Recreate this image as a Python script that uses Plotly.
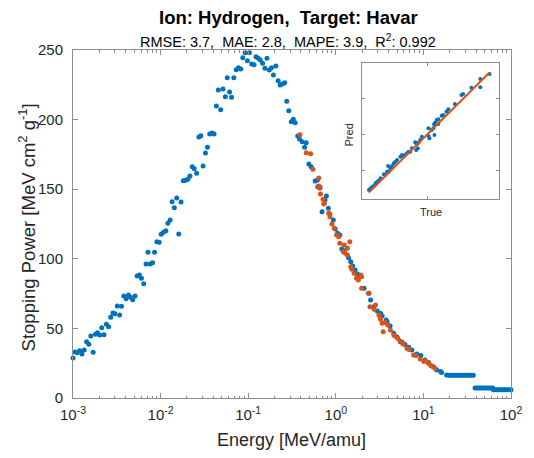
import numpy as np
import plotly.graph_objects as go

# ---------------- data ----------------
# Blue: reference data, log10(Energy [MeV/amu]) and Stopping Power
blue_logE = [
    -3.000, -2.977, -2.951, -2.924, -2.898, -2.872, -2.845, -2.819, -2.796, -2.770,
    -2.743, -2.721, -2.695, -2.672, -2.646, -2.619, -2.593, -2.570, -2.544, -2.521,
    -2.494, -2.468, -2.446, -2.420, -2.393, -2.367, -2.344, -2.318, -2.291, -2.268,
    -2.242, -2.219, -2.193, -2.166, -2.144, -2.118, -2.092, -2.069, -2.042, -2.016,
    -1.993, -1.967, -1.940, -1.917, -1.891, -1.869, -1.843, -1.816, -1.793, -1.767,
    -1.741, -1.714, -1.688, -1.665, -1.639, -1.616, -1.589, -1.563, -1.541, -1.515,
    -1.488, -1.465, -1.439, -1.413, -1.390, -1.363, -1.341, -1.314, -1.288, -1.261,
    -1.239, -1.213, -1.190, -1.164, -1.137, -1.111, -1.085, -1.062, -1.035, -1.009,
    -0.986, -0.960, -0.933, -0.911, -0.885, -0.862, -0.836, -0.809, -0.786, -0.760,
    -0.734, -0.712, -0.684, -0.658, -0.636, -0.610, -0.583, -0.560, -0.537, -0.508,
    -0.485, -0.463, -0.435, -0.413, -0.383, -0.356, -0.338, -0.308, -0.282, -0.236,
    -0.209, -0.206, -0.180, -0.157, -0.123, -0.107, -0.085, -0.028, -0.006, 0.020,
    0.046, 0.069, 0.096, 0.145, 0.171, 0.193, 0.221, 0.247, 0.273, 0.322,
    0.379, 0.397, 0.436, 0.473, 0.510, 0.529, 0.575, 0.586, 0.620, 0.662,
    0.699, 0.736, 0.756, 0.790, 0.832, 0.869, 0.925, 0.971, 1.019, 1.061,
    1.114, 1.152, 1.197, 1.208, 1.265,
    1.29, 1.31, 1.33, 1.35, 1.37, 1.39, 1.41, 1.43, 1.45, 1.47, 1.49, 1.51, 1.53, 1.55, 1.57,
    1.59, 1.61, 1.63, 1.65, 1.67, 1.69, 1.71, 1.73, 1.75, 1.77, 1.79,
    1.80, 1.82, 1.84, 1.86, 1.88, 1.90, 1.92, 1.94, 1.96, 1.98, 2.00,
]
blue_S = [
    28.7, 33.0, 32.5, 34.0, 31.6, 34.5, 40.4, 38.6, 44.5, 32.8,
    45.8, 46.9, 45.3, 50.5, 45.5, 52.9, 51.2, 58.0, 61.1, 60.6,
    66.1, 59.6, 65.9, 73.3, 71.3, 74.0, 72.3, 70.6, 73.3, 87.6,
    88.4, 86.0, 82.1, 96.3, 104.7, 96.3, 97.2, 104.7, 112.3, 111.9,
    117.6, 119.0, 120.2, 125.5, 127.9, 141.0, 136.7, 143.7, 117.8, 140.8,
    156.1, 156.4, 157.1, 159.5, 166.2, 164.7, 161.4, 187.5, 188.4, 166.7,
    176.0, 180.1, 189.7, 190.4, 189.7, 209.8, 221.3, 207.1, 222.0, 216.5,
    230.1, 219.8, 216.0, 230.1, 235.8, 237.3, 236.4, 244.5, 248.1, 242.3,
    248.1, 239.9, 239.4, 245.2, 244.0, 242.8, 240.4, 236.9, 244.0, 235.6,
    237.3, 232.0, 238.5, 227.9, 224.9, 225.6, 226.5, 213.1, 206.4, 198.5,
    200.2, 197.8, 188.2, 185.8, 184.1, 180.1, 183.4, 168.1, 166.2, 155.9,
    156.6, 151.8, 151.4, 133.8, 142.2, 145.1, 136.3, 127.9, 121.4, 118.3,
    117.1, 107.0, 105.8, 100.8, 97.9, 94.8, 92.0, 89.1, 87.1, 78.8,
    75.2, 70.4, 65.6, 62.5, 60.8, 58.9, 56.0, 54.6, 51.7, 46.5,
    43.8, 40.4, 40.2, 38.4, 36.4, 34.5, 31.6, 30.5, 27.3, 25.5,
    22.5, 20.1, 19.0, 18.3, 16.5,
    16.3, 16.3, 16.3, 16.3, 16.3, 16.3, 16.3, 16.3, 16.3, 16.3, 16.3, 16.3, 16.3, 16.3, 16.3,
    7.2, 7.2, 7.2, 7.2, 7.2, 7.2, 7.2, 7.2, 7.2, 7.2, 7.2,
    6.0, 6.0, 6.0, 6.0, 6.0, 6.0, 6.0, 6.0, 6.0, 6.0, 6.0,
]

# Orange: model predictions on the test energies
orange_logE = [
    -0.410, -0.338, -0.288, -0.262, -0.195, -0.195, -0.183, -0.175, -0.146, -0.138,
    -0.130, -0.081, -0.067, -0.067, -0.044, -0.017, 0.009, 0.032, 0.046, 0.085,
    0.096, 0.107, 0.133, 0.133, 0.160, 0.171, 0.182, 0.209, 0.235, 0.258,
    0.284, 0.295, 0.295, 0.371, 0.390, 0.436, 0.454, 0.492, 0.507, 0.510,
    0.529, 0.541, 0.563, 0.594, 0.623, 0.662, 0.676, 0.707, 0.733, 0.767,
    0.812, 0.835, 0.888, 0.914, 0.963, 1.005, 1.016, 1.058, 1.084, 1.095,
    1.132,
]
orange_S = [
    189.2, 176.2, 175.5, 164.3, 158.0, 152.3, 150.6, 146.6, 142.7, 139.4,
    139.9, 132.7, 132.2, 130.2, 125.0, 121.9, 117.1, 115.9, 111.1, 105.1,
    109.9, 104.0, 107.5, 102.7, 112.3, 94.3, 92.5, 89.6, 86.0, 84.8,
    88.4, 87.1, 78.8, 75.2, 65.6, 63.7, 66.8, 59.6, 57.5, 56.5,
    53.7, 47.6, 54.2, 52.4, 48.9, 45.3, 44.5, 42.9, 40.9, 38.8,
    35.7, 34.8, 30.9, 30.5, 28.0, 26.2, 26.6, 24.9, 23.3, 23.0,
    21.3,
]

# Inset: predicted vs true values of the test set
inset_true = [
    186.7, 173.9, 173.9, 161.5, 150.0, 147.7, 138.5, 129.4, 127.0, 122.5,
    120.2, 115.6, 113.3, 110.9, 109.6, 115.6, 108.7, 106.4, 101.8, 103.2,
    101.8, 110.1, 92.6, 90.3, 88.1, 85.7, 83.4, 87.1, 84.8, 78.9,
    76.5, 74.3, 69.6, 72.0, 67.4, 65.1, 62.8, 58.2, 55.9, 53.7,
    51.3, 45.8, 49.0, 44.4, 39.9, 35.2, 30.7, 28.3, 23.8, 21.4,
    19.2, 26.0, 33.0, 42.0, 47.0,
]
inset_pred = [
    184.6, 166.0, 177.6, 165.5, 156.7, 155.3, 142.7, 135.3, 132.0, 127.3,
    126.4, 121.3, 120.4, 116.6, 114.4, 114.8, 108.8, 106.4, 108.8, 94.8,
    98.0, 99.4, 97.0, 92.4, 88.6, 86.4, 89.2, 80.8, 78.5, 80.8,
    76.1, 76.1, 71.5, 73.8, 70.1, 71.5, 69.1, 64.5, 62.1, 59.9,
    56.1, 56.1, 52.9, 48.1, 44.5, 38.9, 34.2, 31.9, 27.2, 24.9,
    22.6, 28.0, 35.5, 43.5, 48.5,
]
identity_line = [19.0, 187.0]

NB2 = "\u00a0\u00a0"
title_text = "Ion: Hydrogen," + NB2 + "Target: Havar"
subtitle_text = ("RMSE: 3.7," + NB2 + "MAE: 2.8," + NB2 + "MAPE: 3.9," + NB2 +
                 "R<sup>2</sup>: 0.992")
x_tick_vals = [1e-3, 1e-2, 1e-1, 1e0, 1e1, 1e2]
x_tick_text = ["10<sup>-3</sup>", "10<sup>-2</sup>", "10<sup>-1</sup>",
               "10<sup>0</sup>", "10<sup>1</sup>", "10<sup>2</sup>"]

# ---------------- figure ----------------
BLUE = "#0072BD"
ORANGE = "#D95319"
AXC = "#8c8c8c"
TXT = "#262626"
FONT = "Liberation Sans, Arial, Helvetica, sans-serif"

blue_E = 10 ** np.array(blue_logE)
orange_E = 10 ** np.array(orange_logE)

fig = go.Figure()
fig.add_trace(go.Scatter(x=blue_E, y=blue_S, mode="markers", cliponaxis=False,
                         marker=dict(color=BLUE, size=5, line=dict(width=0)),
                         xaxis="x", yaxis="y", showlegend=False))
fig.add_trace(go.Scatter(x=orange_E, y=orange_S, mode="markers", cliponaxis=False,
                         marker=dict(color=ORANGE, size=5, line=dict(width=0)),
                         xaxis="x", yaxis="y", showlegend=False))
fig.add_trace(go.Scatter(x=inset_true, y=inset_pred, mode="markers",
                         marker=dict(color=BLUE, size=4, line=dict(width=0)),
                         xaxis="x2", yaxis="y2", showlegend=False))
fig.add_trace(go.Scatter(x=identity_line, y=identity_line, mode="lines",
                         line=dict(color=ORANGE, width=2),
                         xaxis="x2", yaxis="y2", showlegend=False))

minor_vals = [m * 10.0 ** d for d in range(-3, 2) for m in range(2, 10)]

W, H = 534, 458
L, R, T, B = 73, 515, 50, 398
pw, ph = R - L, B - T


def px_x(px):
    return (px - L) / pw


def px_y(py):
    return (B - py) / ph


fig.update_layout(
    width=W, height=H,
    margin=dict(l=L, r=W - R, t=T, b=H - B),
    paper_bgcolor="white", plot_bgcolor="white",
    font=dict(family=FONT, color=TXT),
    showlegend=False,
    xaxis=dict(type="log", range=[-3, 2], tickmode="array",
               tickvals=x_tick_vals, ticktext=x_tick_text,
               ticks="inside", ticklen=5, tickcolor=AXC, tickwidth=1,
               minor=dict(tickmode="array", tickvals=minor_vals, ticks="inside",
                          ticklen=2.5, tickcolor=AXC, showgrid=False),
               showline=True, linecolor=AXC, linewidth=1, mirror="ticks",
               showgrid=False, zeroline=False, ticklabeloverflow="allow",
               ticklabelstandoff=3,
               tickfont=dict(size=15, color=TXT)),
    yaxis=dict(range=[0, 250], tickmode="linear", tick0=0, dtick=50,
               ticks="inside", ticklen=5, tickcolor=AXC, tickwidth=1,
               showline=True, linecolor=AXC, linewidth=1, mirror="ticks",
               showgrid=False, zeroline=False, ticklabelstandoff=6,
               tickfont=dict(size=15, color=TXT)),
    xaxis2=dict(domain=[px_x(365), px_x(503)], anchor="y2", range=[10, 200],
                tickmode="linear", tick0=0, dtick=100, showticklabels=False,
                ticks="inside", ticklen=3, tickcolor=AXC,
                showline=True, linecolor=AXC, linewidth=1, mirror="ticks",
                showgrid=False, zeroline=False),
    yaxis2=dict(domain=[px_y(199), px_y(63)], anchor="x2", range=[10, 200],
                tickmode="linear", tick0=0, dtick=50, showticklabels=False,
                ticks="inside", ticklen=3, tickcolor=AXC,
                showline=True, linecolor=AXC, linewidth=1, mirror="ticks",
                showgrid=False, zeroline=False),
)

ann = []
ann.append(dict(text="<b>" + title_text + "</b>", x=px_x(290), y=px_y(18),
                xref="paper", yref="paper", showarrow=False,
                font=dict(size=18.5, color="black"), xanchor="center", yanchor="middle"))
ann.append(dict(text=subtitle_text, x=px_x(290), y=px_y(41),
                xref="paper", yref="paper", showarrow=False,
                font=dict(size=14.5, color="black"), xanchor="center", yanchor="middle"))
ann.append(dict(text="Energy [MeV/amu]", x=px_x(293), y=px_y(440),
                xref="paper", yref="paper", showarrow=False,
                font=dict(size=18, color=TXT), xanchor="center", yanchor="middle"))
ann.append(dict(text="Stopping Power [MeV cm<sup>2</sup> g<sup>-1</sup>]",
                x=px_x(27), y=px_y(227), textangle=-90,
                xref="paper", yref="paper", showarrow=False,
                font=dict(size=18.5, color=TXT), xanchor="center", yanchor="middle"))
ann.append(dict(text="True", x=px_x(434), y=px_y(212),
                xref="paper", yref="paper", showarrow=False,
                font=dict(size=11, color=TXT), xanchor="center", yanchor="middle"))
ann.append(dict(text="Pred", x=px_x(352), y=px_y(135), textangle=-90,
                xref="paper", yref="paper", showarrow=False,
                font=dict(size=11, color=TXT), xanchor="center", yanchor="middle"))
fig.update_layout(annotations=ann)

fig.write_html(
    "out.html",
    config={"displayModeBar": False},
    post_script="document.body.style.margin='0px';document.body.style.padding='0px';",
)
